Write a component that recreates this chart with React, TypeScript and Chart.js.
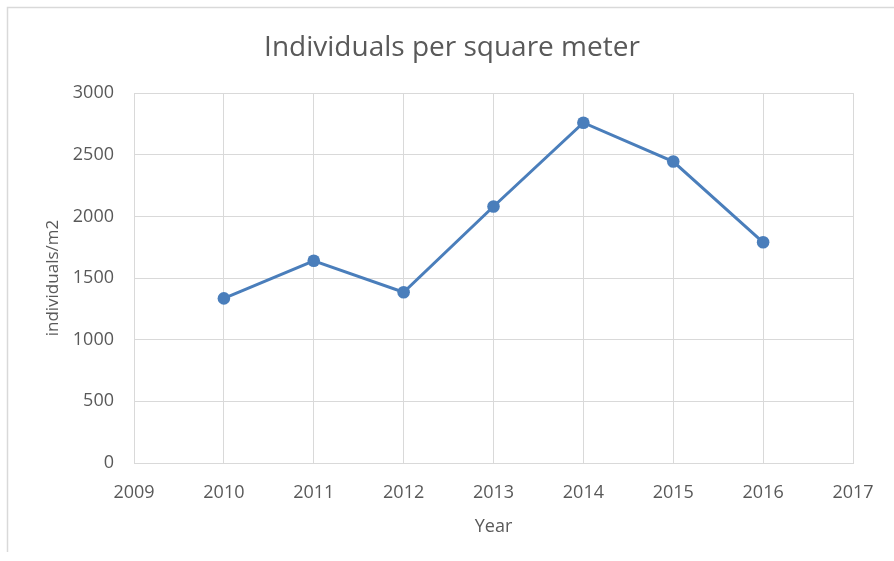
import React, { useEffect, useRef } from "react";
import { Chart, registerables } from "chart.js";

Chart.register(...registerables);

const years = [2010, 2011, 2012, 2013, 2014, 2015, 2016];
const individuals = [1335, 1640, 1385, 2080, 2760, 2445, 1790];
const xMin = 2009;
const xMax = 2017;
const yMin = 0;
const yMax = 3000;
const yStep = 500;

const FONT = "'Open Sans', 'Noto Sans', sans-serif";
const TEXT = "#595959";
const GRID = "#d9d9d9";
const LINE = "#4a7ebb";

const frame = {
  id: "frame",
  beforeDraw(chart: any) {
    const ctx = chart.ctx;
    ctx.save();
    ctx.fillStyle = "#ffffff";
    ctx.fillRect(0, 0, chart.width, chart.height);
    ctx.strokeStyle = GRID;
    ctx.lineWidth = 1.5;
    ctx.beginPath();
    ctx.moveTo(7.5, 552);
    ctx.lineTo(7.5, 7.5);
    ctx.lineTo(chart.width, 7.5);
    ctx.stroke();
    ctx.restore();
  },
};

export default function App() {
  const ref = useRef<HTMLCanvasElement>(null);
  useEffect(() => {
    document.body.style.margin = "0";
    const chart = new Chart(ref.current!, {
      type: "line",
      data: {
        datasets: [
          {
            data: years.map((y, i) => ({ x: y, y: individuals[i] })),
            borderColor: LINE,
            backgroundColor: LINE,
            borderWidth: 3,
            pointRadius: 6.3,
            pointBorderWidth: 0,
            pointBackgroundColor: LINE,
            tension: 0,
          },
        ],
      },
      options: {
        animation: false,
        responsive: false,
        maintainAspectRatio: false,
        layout: { padding: { left: 10, right: 0, top: 31, bottom: 0 } },
        plugins: {
          legend: { display: false },
          tooltip: { enabled: false },
          title: {
            display: true,
            text: "Individuals per square meter",
            color: TEXT,
            font: { family: FONT, size: 28, weight: "normal" },
            padding: { top: 0, bottom: 28.5 },
          },
        },
        scales: {
          x: {
            type: "linear",
            min: xMin,
            max: xMax,
            ticks: {
              stepSize: 1,
              color: TEXT,
              font: { family: FONT, size: 18 },
              padding: 19,
              maxRotation: 0,
              callback: (v: any) => String(v),
            },
            grid: { color: GRID, lineWidth: 1, drawTicks: false },
            border: { color: GRID, width: 1 },
            title: {
              display: true,
              text: "Year",
              color: TEXT,
              font: { family: FONT, size: 18 },
              padding: { top: 23, bottom: 23 },
            },
            afterFit: (s: any) => {
              s.height = 98;
            },
          },
          y: {
            min: yMin,
            max: yMax,
            ticks: {
              stepSize: yStep,
              color: TEXT,
              font: { family: FONT, size: 18 },
              padding: 20,
              callback: (v: any) => String(v),
            },
            grid: { color: GRID, lineWidth: 1, drawTicks: false },
            border: { color: GRID, width: 1 },
            title: {
              display: true,
              text: "individuals/m2",
              color: TEXT,
              font: { family: FONT, size: 17 },
              padding: { top: 33, bottom: 0 },
            },
            afterFit: (s: any) => {
              s.width = 124;
            },
          },
          spacer: {
            type: "linear",
            position: "right",
            display: true,
            ticks: { display: false },
            grid: { display: false, drawTicks: false },
            border: { display: false },
            afterFit: (s: any) => {
              s.width = 41;
            },
          },
        },
      },
      plugins: [frame],
    });
    return () => chart.destroy();
  }, []);
  return (
    <div style={{ width: 894, height: 561, position: "relative" }}>
      <canvas ref={ref} width={894} height={561} style={{ display: "block" }} />
    </div>
  );
}
